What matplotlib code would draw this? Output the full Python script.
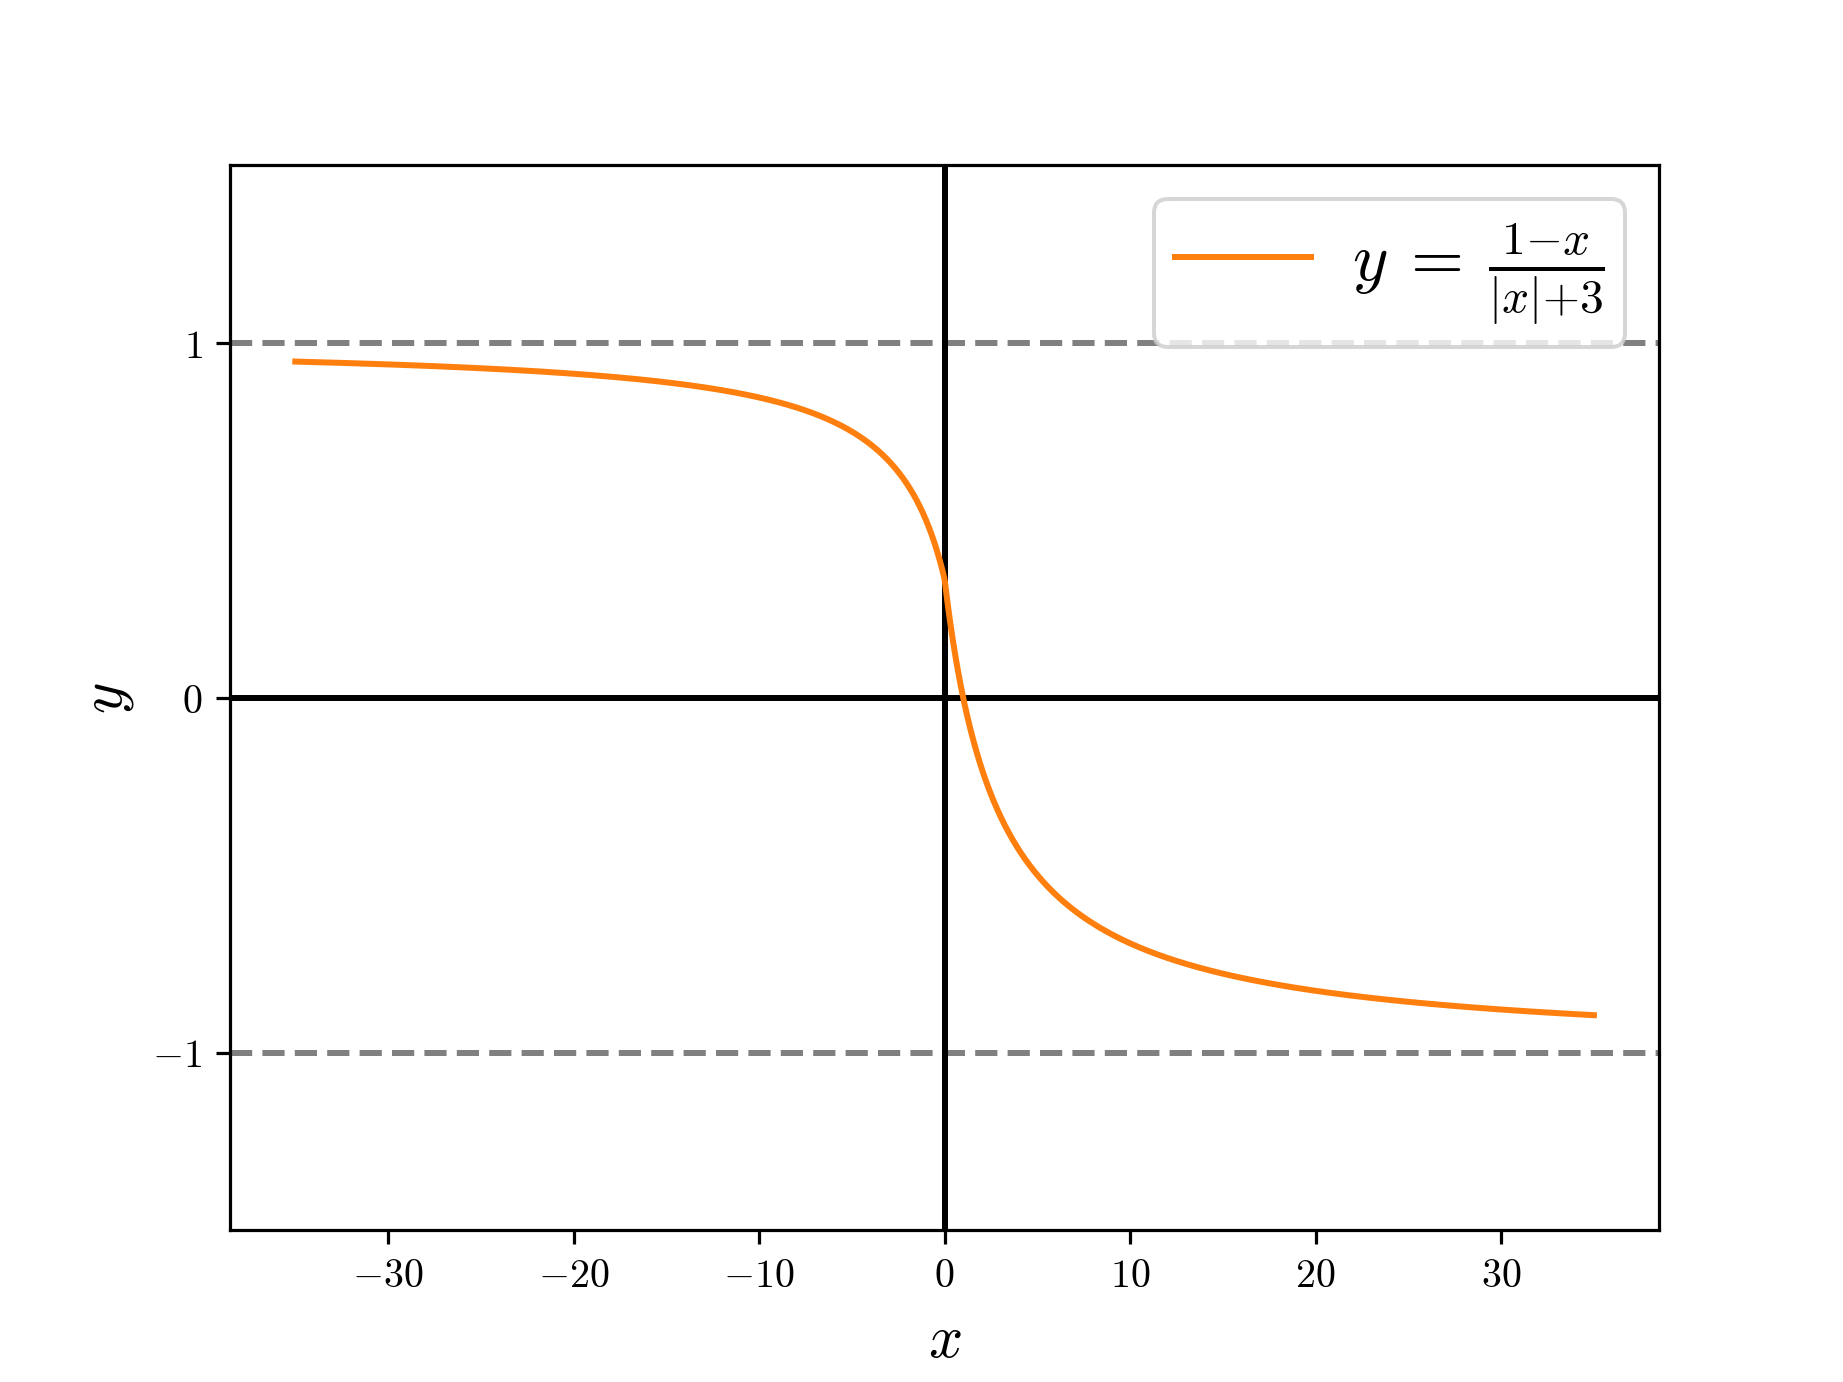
import numpy as np
import matplotlib
matplotlib.use("Agg")
import matplotlib.pyplot as plt
from matplotlib.ticker import FuncFormatter

plt.rcParams["mathtext.fontset"] = "cm"
plt.rcParams["font.family"] = "serif"
plt.rcParams["font.serif"] = ["DejaVu Serif"]

# curve y = (1 - x) / (|x| + 3), drawn over the plotted x range
x_start, x_stop = -35, 35
n_pts = 2000
asymptotes = [1, -1]
y_ticks = [-1, 0, 1]
y_lim = (-1.5, 1.5)
curve_label = r"$y\:=\:\frac{1{-}x}{|x|{+}3}$"

x = np.linspace(x_start, x_stop, n_pts)
y = (1 - x) / (np.abs(x) + 3)

fig, ax = plt.subplots(figsize=(6.4, 4.8))

for a in asymptotes:
    ax.axhline(a, color="gray", lw=1.5, dashes=(3.7, 1.7))
ax.axhline(0, color="black", lw=1.5)
ax.axvline(0, color="black", lw=1.5)
ax.plot(x, y, color="#ff7f0e", lw=1.5, label=curve_label)

ax.set_ylim(*y_lim)
ax.set_yticks(y_ticks)
math_fmt = FuncFormatter(lambda v, p: r"$%d$" % round(v))
ax.xaxis.set_major_formatter(math_fmt)
ax.yaxis.set_major_formatter(math_fmt)
ax.tick_params(labelsize=10)

ax.set_xlabel(r"$x$", fontsize=15)
ax.set_ylabel(r"$y$", fontsize=15)
ax.legend(loc="upper right", fontsize=17, borderpad=0.3, handletextpad=0.6)

fig.savefig("out.png", dpi=288)
